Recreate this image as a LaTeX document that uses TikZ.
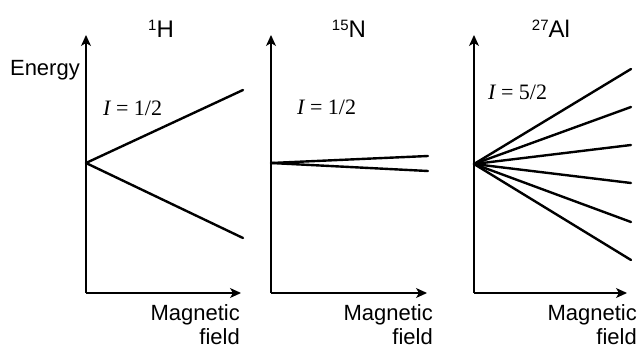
\documentclass[tikz,border=0pt]{standalone}
\usepackage{fontspec}
\setmainfont{Liberation Sans}
\newfontfamily\tms{Liberation Serif}
\usetikzlibrary{arrows.meta}
\begin{document}
\begin{tikzpicture}[x=1pt,y=-1pt,
  axis/.style={line width=1.3pt,-{Stealth[length=11pt,width=10pt,inset=3pt]}},
  level/.style={line width=2.4pt,line cap=round},
  title/.style={font=\fontsize{24}{24}\selectfont, inner sep=0pt, anchor=base},
  lab/.style={font=\fontsize{22}{25}\selectfont, inner sep=0pt, anchor=base east},
  spin/.style={font=\tms\fontsize{22}{22}\selectfont, inner sep=0pt, anchor=base west}]
\newcommand\supnum[1]{{\fontsize{15}{15}\selectfont\raisebox{7pt}{#1}}}
\useasboundingbox (0,0) rectangle (638,351);

% ---------- panel 1 : 1H ----------
\coordinate (c1) at (86,293);
\coordinate (y1) at (86,35);
\coordinate (x1) at (241,293);
\coordinate (o1) at (86,163);
\coordinate (h1u) at (243,90);
\coordinate (h1d) at (243,238);
\draw[axis] (c1) -- (y1);
\draw[axis] (c1) -- (x1);
\draw[level] (o1) -- (h1u);
\draw[level] (o1) -- (h1d);
\node[title] (t1) at (161,37) {\supnum{1}H};
\node[lab] (energy) at (80,75) {Energy};
\node[spin] (s1) at (103,115) {{\itshape I} = 1/2};
\node[lab] (m1) at (240,320) {Magnetic};
\node[lab] (f1) at (240,344) {field};

% ---------- panel 2 : 15N ----------
\coordinate (c2) at (271,293);
\coordinate (y2) at (271,35);
\coordinate (x2) at (427,293);
\coordinate (o2) at (271,163);
\coordinate (n2u) at (428,156);
\coordinate (n2d) at (428,171);
\draw[axis] (c2) -- (y2);
\draw[axis] (c2) -- (x2);
\draw[level] (o2) -- (n2u);
\draw[level] (o2) -- (n2d);
\node[title] (t2) at (349,37) {\supnum{15}N};
\node[spin] (s2) at (297,114) {{\itshape I} = 1/2};
\node[lab] (m2) at (433,320) {Magnetic};
\node[lab] (f2) at (433,344) {field};

% ---------- panel 3 : 27Al ----------
\coordinate (c3) at (474,293);
\coordinate (y3) at (474,35);
\coordinate (x3) at (627,293);
\coordinate (o3) at (474,164);
\draw[axis] (c3) -- (y3);
\draw[axis] (c3) -- (x3);
\foreach \yy [count=\k] in {69,107,145,183,222,260}{
  \coordinate (a\k) at (631,\yy);
  \draw[level] (o3) -- (a\k);
}
\node[title] (t3) at (551,37) {\supnum{27}Al};
\node[spin] (s3) at (488,99) {{\itshape I} = 5/2};
\node[lab] (m3) at (637,320) {Magnetic};
\node[lab] (f3) at (637,344) {field};
\end{tikzpicture}
\end{document}
